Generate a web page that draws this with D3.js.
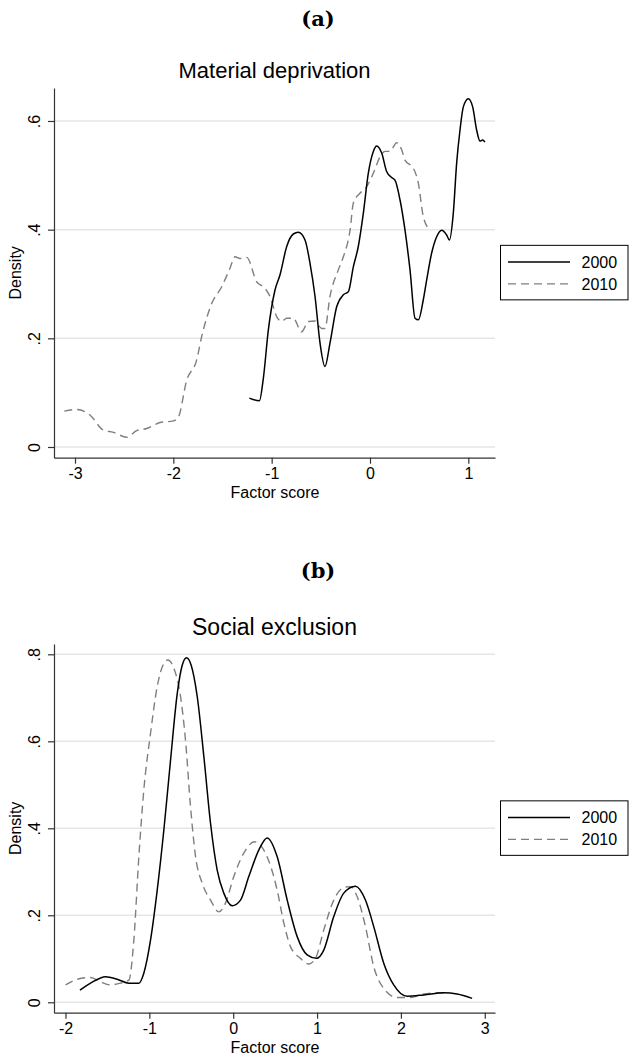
<!DOCTYPE html>
<html>
<head>
<meta charset="utf-8">
<script src="https://cdn.jsdelivr.net/npm/d3@7"></script>
<style>
  body { margin: 0; background: #fff; }
  svg { display: block; }
  text { font-family: "Liberation Sans", Arial, sans-serif; fill: #000; }
</style>
</head>
<body>
<svg id="fig" width="632" height="1059"></svg>
<script>
// Legend entries
const seriesNames = ["2000", "2010"];

// Panel (a): kernel density of the material deprivation factor score
const mdTicksX = [-3, -2, -1, 0, 1];
const mdTicksY = [0, 0.2, 0.4, 0.6];
const md2000 = [
  [-1.227, 0.090], [-1.125, 0.085], [-1.085, 0.126], [-1.034, 0.215], [-0.966, 0.289],
  [-0.915, 0.317], [-0.847, 0.369], [-0.780, 0.392], [-0.729, 0.395], [-0.661, 0.381],
  [-0.610, 0.338], [-0.559, 0.277], [-0.508, 0.191], [-0.458, 0.148], [-0.407, 0.191],
  [-0.339, 0.258], [-0.271, 0.280], [-0.220, 0.286], [-0.169, 0.332], [-0.119, 0.369],
  [-0.068, 0.430], [-0.017, 0.504], [0.034, 0.544], [0.068, 0.554], [0.119, 0.541],
  [0.169, 0.507], [0.220, 0.496], [0.254, 0.491], [0.305, 0.455], [0.356, 0.399],
  [0.407, 0.326], [0.458, 0.237], [0.492, 0.234], [0.542, 0.271], [0.576, 0.307],
  [0.627, 0.357], [0.678, 0.387], [0.729, 0.399], [0.780, 0.390], [0.807, 0.381],
  [0.847, 0.430], [0.881, 0.522], [0.915, 0.583], [0.949, 0.626], [1.000, 0.641],
  [1.044, 0.626], [1.085, 0.583], [1.119, 0.563], [1.145, 0.565], [1.169, 0.561]
];
const md2010 = [
  [-3.109, 0.066], [-2.983, 0.069], [-2.848, 0.059], [-2.712, 0.031], [-2.610, 0.027],
  [-2.474, 0.018], [-2.373, 0.030], [-2.271, 0.034], [-2.136, 0.045], [-2.000, 0.048],
  [-1.949, 0.055], [-1.864, 0.123], [-1.763, 0.160], [-1.712, 0.203], [-1.610, 0.264],
  [-1.508, 0.295], [-1.424, 0.329], [-1.373, 0.350], [-1.322, 0.347], [-1.254, 0.349],
  [-1.152, 0.304], [-1.068, 0.292], [-1.017, 0.277], [-0.949, 0.240], [-0.898, 0.231],
  [-0.847, 0.237], [-0.780, 0.237], [-0.695, 0.212], [-0.627, 0.231], [-0.559, 0.232],
  [-0.491, 0.218], [-0.458, 0.218], [-0.407, 0.277], [-0.322, 0.326], [-0.271, 0.350],
  [-0.203, 0.399], [-0.169, 0.449], [-0.102, 0.467], [-0.034, 0.479], [0.034, 0.504],
  [0.102, 0.534], [0.153, 0.544], [0.203, 0.544], [0.271, 0.560], [0.322, 0.547],
  [0.356, 0.528], [0.441, 0.513], [0.492, 0.485], [0.542, 0.424], [0.610, 0.399]
];

// Panel (b): kernel density of the social exclusion factor score
const seTicksX = [-2, -1, 0, 1, 2, 3];
const seTicksY = [0, 0.2, 0.4, 0.6, 0.8];
const se2000 = [
  [-1.828, 0.028], [-1.701, 0.044], [-1.522, 0.059], [-1.383, 0.053], [-1.244, 0.044],
  [-1.125, 0.044], [-1.066, 0.067], [-0.986, 0.143], [-0.906, 0.258], [-0.827, 0.396],
  [-0.747, 0.557], [-0.667, 0.710], [-0.608, 0.775], [-0.557, 0.792], [-0.501, 0.775],
  [-0.429, 0.703], [-0.350, 0.565], [-0.270, 0.411], [-0.191, 0.304], [-0.112, 0.251],
  [-0.012, 0.222], [0.087, 0.235], [0.186, 0.289], [0.305, 0.350], [0.405, 0.378],
  [0.524, 0.335], [0.644, 0.235], [0.763, 0.151], [0.882, 0.109], [0.993, 0.101],
  [1.080, 0.120], [1.199, 0.197], [1.318, 0.251], [1.458, 0.267], [1.577, 0.235],
  [1.676, 0.174], [1.795, 0.090], [1.914, 0.040], [2.074, 0.014], [2.272, 0.017],
  [2.510, 0.022], [2.670, 0.019], [2.849, 0.009]
];
const se2010 = [
  [-1.999, 0.040], [-1.859, 0.053], [-1.701, 0.057], [-1.582, 0.047], [-1.462, 0.040],
  [-1.343, 0.044], [-1.244, 0.051], [-1.185, 0.143], [-1.125, 0.335], [-1.066, 0.488],
  [-0.986, 0.618], [-0.906, 0.726], [-0.827, 0.779], [-0.779, 0.787], [-0.708, 0.768],
  [-0.628, 0.703], [-0.569, 0.603], [-0.509, 0.450], [-0.449, 0.335], [-0.370, 0.274],
  [-0.270, 0.235], [-0.172, 0.208], [-0.092, 0.228], [0.007, 0.289], [0.126, 0.343],
  [0.254, 0.369], [0.365, 0.350], [0.484, 0.289], [0.524, 0.258], [0.604, 0.182],
  [0.683, 0.128], [0.802, 0.101], [0.901, 0.088], [0.981, 0.101], [1.080, 0.166],
  [1.199, 0.235], [1.318, 0.264], [1.398, 0.266], [1.478, 0.243], [1.577, 0.174],
  [1.676, 0.082], [1.795, 0.032], [1.954, 0.011], [2.113, 0.011], [2.272, 0.019],
  [2.431, 0.022], [2.550, 0.021]
];

const svg = d3.select("#fig");

const panels = [
  {
    tag: "(a)", tagY: 26, title: "Material deprivation", titleY: 78, titleSize: 22,
    xDomain: [-3.2136, 1.2712], yDomain: [-0.0197, 0.6607],
    top: 88, bottom: 457.7,
    xTicks: mdTicksX, yTicks: mdTicksY, s2000: md2000, s2010: md2010
  },
  {
    tag: "(b)", tagY: 578, title: "Social exclusion", titleY: 635, titleSize: 23,
    xDomain: [-2.137, 3.122], yDomain: [-0.0239, 0.8237],
    top: 644, bottom: 1012.7,
    xTicks: seTicksX, yTicks: seTicksY, s2000: se2000, s2010: se2010
  }
];

const left = 54, right = 495;
const fmtY = d => d === 0 ? "0" : String(d).replace(/^0\./, ".");
const fmtX = d => String(d);

panels.forEach(p => {
  const g = svg.append("g");
  const x = d3.scaleLinear().domain(p.xDomain).range([left, right]);
  const y = d3.scaleLinear().domain(p.yDomain).range([p.bottom, p.top]);

  // panel letter
  g.append("text")
    .attr("x", 318).attr("y", p.tagY)
    .attr("text-anchor", "middle")
    .style("font-family", "'DejaVu Serif', serif")
    .style("font-weight", "bold")
    .style("font-size", "21px")
    .text(p.tag);

  // plot title
  g.append("text")
    .attr("x", (left + right) / 2).attr("y", p.titleY)
    .attr("text-anchor", "middle")
    .style("font-size", p.titleSize + "px")
    .text(p.title);

  // horizontal gridlines
  g.append("g").selectAll("line").data(p.yTicks).join("line")
    .attr("x1", left + 1).attr("x2", right)
    .attr("y1", d => y(d)).attr("y2", d => y(d))
    .attr("stroke", "#e6e6e6").attr("stroke-width", 1.5);

  // density curves
  const line = d3.line()
    .x(d => x(d[0])).y(d => y(d[1]))
    .curve(d3.curveMonotoneX);

  g.append("path").datum(p.s2010)
    .attr("d", line).attr("fill", "none")
    .attr("stroke", "#7f7f7f").attr("stroke-width", 1.4)
    .attr("stroke-dasharray", "8,5");

  g.append("path").datum(p.s2000)
    .attr("d", line).attr("fill", "none")
    .attr("stroke", "#000").attr("stroke-width", 1.5);

  // x axis
  const xAxis = d3.axisBottom(x)
    .tickValues(p.xTicks).tickFormat(fmtX)
    .tickSize(6).tickSizeOuter(0).tickPadding(4);
  const gx = g.append("g")
    .attr("transform", `translate(0,${p.bottom})`)
    .call(xAxis);
  gx.selectAll("path,line").attr("stroke", "#333").attr("stroke-width", 1.2);
  gx.selectAll("text").style("font-size", "16px").style("font-family", "'Liberation Sans', Arial, sans-serif").attr("fill", "#000");

  // y axis with rotated labels
  const yAxis = d3.axisLeft(y)
    .tickValues(p.yTicks).tickFormat(fmtY)
    .tickSize(6).tickSizeOuter(0);
  const gy = g.append("g")
    .attr("transform", `translate(${left},0)`)
    .call(yAxis);
  gy.selectAll("path,line").attr("stroke", "#333").attr("stroke-width", 1.2);
  gy.selectAll("text")
    .attr("x", null).attr("dy", null)
    .attr("transform", "translate(-14,0) rotate(-90)")
    .attr("text-anchor", "middle")
    .style("font-size", "16px")
    .style("font-family", "'Liberation Sans', Arial, sans-serif")
    .attr("fill", "#000");

  // axis titles
  g.append("text")
    .attr("x", (left + right) / 2 + 0.5).attr("y", p.bottom + 40.5)
    .attr("text-anchor", "middle")
    .style("font-size", "16px")
    .text("Factor score");

  g.append("text")
    .attr("transform", `translate(20.5,${(p.top + p.bottom) / 2}) rotate(-90)`)
    .attr("text-anchor", "middle")
    .style("font-size", "16px")
    .text("Density");

  // legend
  const ly = (p.top + p.bottom) / 2 - 27.5;
  const lg = g.append("g").attr("transform", `translate(500.5,${ly})`);
  lg.append("rect")
    .attr("width", 127.5).attr("height", 54.5)
    .attr("fill", "#fff").attr("stroke", "#000").attr("stroke-width", 1);
  const styles = [
    { stroke: "#000", dash: null, w: 1.5 },
    { stroke: "#7f7f7f", dash: "8,5", w: 1.4 }
  ];
  seriesNames.forEach((name, i) => {
    const yy = 16.7 + i * 21.8;
    lg.append("line")
      .attr("x1", 7.5).attr("x2", 69.5).attr("y1", yy).attr("y2", yy)
      .attr("stroke", styles[i].stroke).attr("stroke-width", styles[i].w)
      .attr("stroke-dasharray", styles[i].dash);
    lg.append("text")
      .attr("x", 81).attr("y", yy + 5.8)
      .style("font-size", "16px")
      .text(name);
  });
});
</script>
</body>
</html>
